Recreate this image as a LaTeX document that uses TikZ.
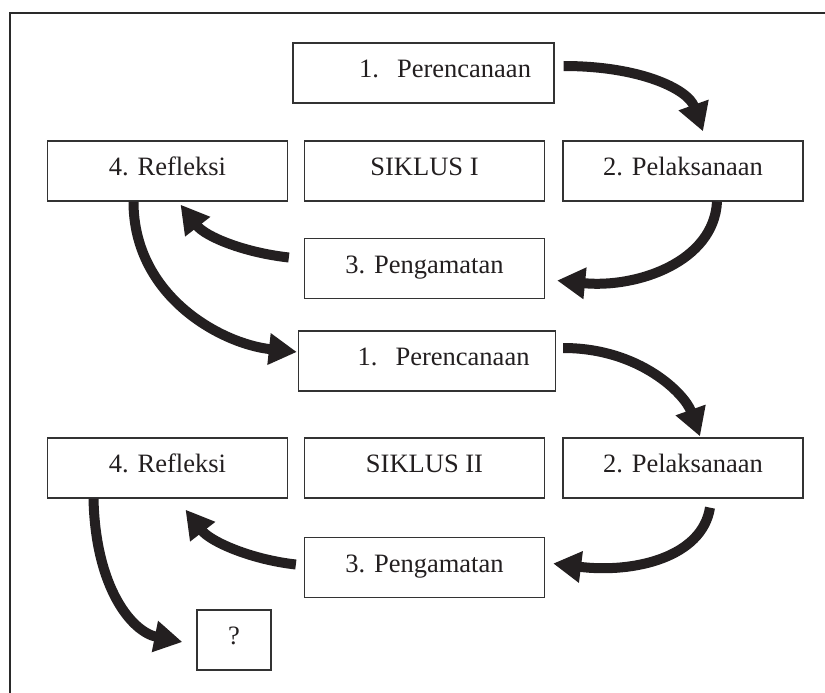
\documentclass[tikz,border=0pt]{standalone}
\usepackage{fontspec}
\setmainfont{Liberation Serif}
\usetikzlibrary{arrows.meta,calc}
\definecolor{boxc}{HTML}{333333}
\definecolor{arrc}{HTML}{231F20}
\definecolor{txtc}{HTML}{231F20}
\definecolor{framec}{HTML}{2A2A2A}
\begin{document}
\begin{tikzpicture}[x=1pt,y=-1pt,
  box/.style={draw=boxc, line width=1.3pt, minimum width=240pt, minimum height=60pt,
    inner sep=0pt, text height=18pt, text depth=9pt,
    font=\fontsize{26.5}{30}\selectfont, text=txtc},
  planbox/.style={box, align=right},
  flow/.style={line width=10pt, draw=arrc, -{Triangle[length=28pt,width=30pt]}}
]
\useasboundingbox (0,0) rectangle (825,693);
\fill[white] (0,0) rectangle (825,693);
\draw[line width=2pt, draw=framec] (10,720) -- (10,13) -- (840,13);

% cycle I
\node[planbox, inner xsep=23pt, text width=215pt] (p1) at (423.5,73) {1.\hspace{18pt}Perencanaan};
\node[box] (r1) at (167.5,171) {4. Refleksi};
\node[box] (s1) at (424.5,171) {SIKLUS I};
\node[box] (l1) at (683,171) {2. Pelaksanaan};
\node[box] (g1) at (424.5,268.5) {3. Pengamatan};

% cycle II
\node[planbox, inner xsep=26pt, text width=205pt] (p2) at (427,361) {1.\hspace{18pt}Perencanaan};
\node[box] (r2) at (167.5,468) {4. Refleksi};
\node[box] (s2) at (424.5,468) {SIKLUS II};
\node[box] (l2) at (683,468) {2. Pelaksanaan};
\node[box] (g2) at (424.5,567.5) {3. Pengamatan};
\node[box, minimum width=74pt] (q) at (234,640) {?};

% arrows cycle I
\draw[flow] ($(p1.east)+(9,-7)$) .. controls +(77,0) and +(-15,-42) .. ($(l1.north)+(20,-9)$);
\draw[flow] ($(l1.south)+(34,0)$) .. controls +(-3,60) and +(80,8) .. ($(g1.east)+(12,12)$);
\draw[flow] ($(g1.west)+(-15,-11)$) .. controls +(-45,-5) and +(25,32) .. ($(r1.south)+(13,3)$);
\draw[flow] ($(r1.south)+(-34,0)$) .. controls +(0,95) and +(-75,-8) .. ($(p2.west)+(-1,-9)$);

% arrows cycle II
\draw[flow] ($(p2.east)+(7,-13)$) .. controls +(77,0) and +(-15,-42) .. ($(l2.north)+(17,-1)$);
\draw[flow] ($(l2.south)+(27,9)$) .. controls +(-8,50) and +(80,10) .. ($(g2.east)+(8,-4)$);
\draw[flow] ($(g2.west)+(-8,-3)$) .. controls +(-45,-5) and +(25,32) .. ($(r2.south)+(18,11)$);
\draw[flow] ($(r2.south)+(-74,0)$) .. controls +(2,90) and +(-50,-10) .. ($(q.west)+(-14,2)$);
\end{tikzpicture}
\end{document}
